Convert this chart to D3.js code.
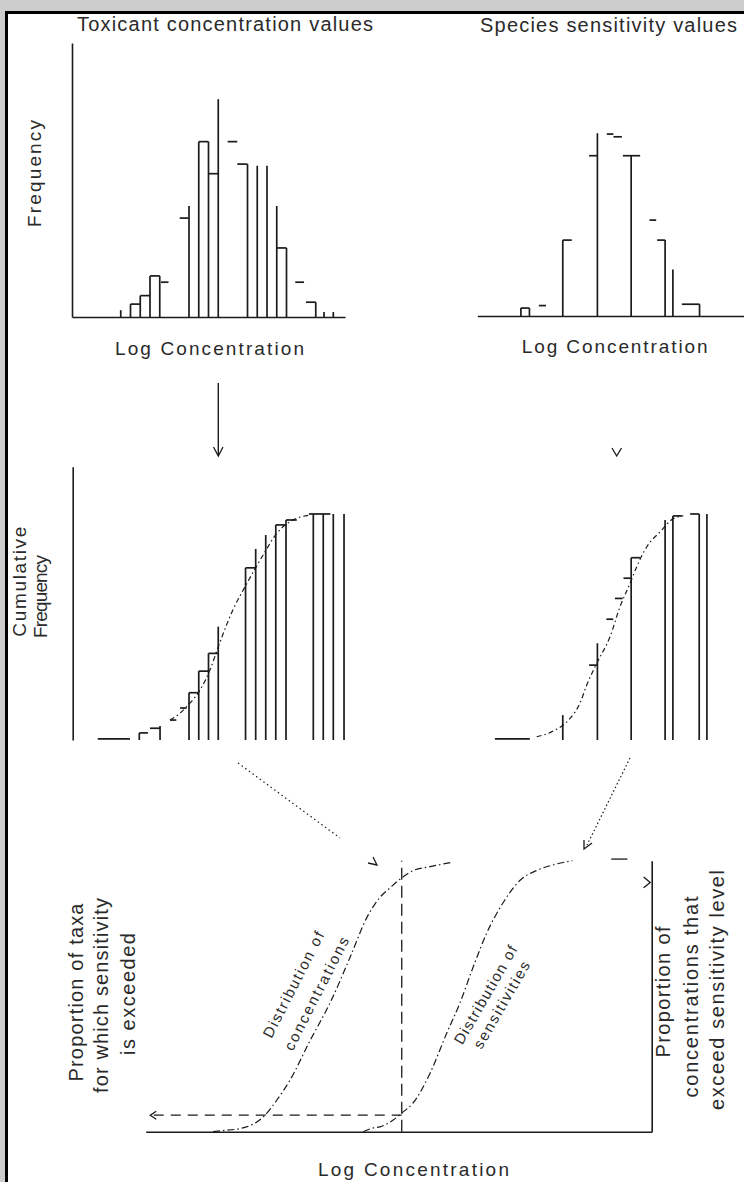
<!DOCTYPE html>
<html>
<head>
<meta charset="utf-8">
<script src="https://cdn.jsdelivr.net/npm/d3@7"></script>
<style>
  html, body { margin: 0; padding: 0; background: #cdcdcd; }
  svg { display: block; }
  text { font-family: "Liberation Sans", Arial, sans-serif; fill: #2a2a2a; }
</style>
</head>
<body>
<svg id="chart" width="744" height="1182"></svg>
<script>
// ---- data (log-concentration bins, frequency %) ----
// vertical strokes: [bin edge, height]   tops: [from, to, height]
const toxVerts = [[5,2.5],[6,4.7],[7,7.8],[8,15],[9,15],[12,40.5],[13,64],[14,64],[15,79.5],
                  [18,55.8],[19,55.2],[20,55.2],[21,40.5],[22,25.2],[25,5.4],[25.85,1.8],[26.8,1.8]];
const toxTops  = [[6,7,4.7],[7,8,7.8],[8,9,15],[9.13,9.9,12.7],[11.05,11.97,36.1],[13,14,64],
                  [14,15,52.3],[15.97,16.95,64],[16.95,18,55.8],[21,22,25.2],[22.9,23.8,12.7],[24,25,5.4]];

const speVerts = [[5.1,2.9],[6.1,2.9],[10,27.7],[14.05,66.7],[18,58.5],[21.97,27.7],[22.88,17],[26,4.3]];
const speTops  = [[5.1,6.1,2.9],[7.2,8.04,3.8],[10,11.05,27.7],[13.08,14.05,58.5],[15.15,15.93,66.4],
                  [15.93,16.91,65.4],[17.03,19.05,58.5],[20.14,20.93,35],[21.04,21.97,27.7],[23.93,26,4.3]];

// cumulative frequency (%)
const cumToxVerts = [[6.9,2.6],[9.03,5.1],[12,17.3],[13,25.2],[14,31.7],[15,41.5],[17.8,63],[18.84,69.9],
                     [19.87,75],[20.9,78.7],[21.95,80.5],[24.75,82.7],[25.77,82.7],[26.8,82.7],[27.9,82.7]];
const cumToxTops  = [[2.64,5.95,0.4],[6.9,7.8,2.6],[8,9.03,4.3],[10.05,10.7,7.3],[11.08,11.76,11.7],
                     [12,13,17.3],[13,14,25.2],[14,15,31.7],[17.8,18.84,63],[20.9,21.95,78.7],
                     [21.95,23.05,80.5],[24.3,26.5,82.7]];
const cumToxFitX  = [10.05,11.08,11.76,13.13,14.15,15.0,16.5,17.75,19.6,21.0,22.36,24.4];
const cumToxFitY  = [7.3,9.8,12.2,18.3,25.6,34.1,47.6,56.1,67.7,75.6,79.9,82.3];

const cumSpeVerts = [[10,9.1],[14.05,35.4],[18,66.7],[21.97,80.5],[22.88,82],[25.96,82.7],[26.86,82.7]];
const cumSpeTops  = [[2.06,6.15,0.4],[13.08,14.05,27.4],[15.1,15.9,44.2],[16.1,17,51.8],[17.1,18,59.2],
                     [18,19.05,66.7],[22.88,23.93,82],[24.9,25.96,82.7]];
const cumSpeFitX  = [6.95,8.9,10.85,12.0,12.8,13.98,15.54,16.7,17.88,18.66,19.83,21.4,22.97,24.1];
const cumSpeFitY  = [1.2,3.3,7.9,13.4,20.1,28.1,37.9,48.8,57.4,63.5,70.7,76.2,81.1,82];

// bottom panel: proportions (0-1) against log concentration (0-100)
const concX = [13.3,14.7,19.2,23.2,25.9,28.5,32.5,36.4,40.4,43.7,46.3,48.3,50.6,52.9,56.2,60.5];
const concY = [0,0.003,0.014,0.054,0.116,0.19,0.337,0.474,0.644,0.79,0.865,0.9,0.937,0.964,0.978,0.994];
const sensX = [43,45,46.3,48.9,50.6,52.8,56.2,59.5,62.1,64.7,67.4,70.6,74,77.4,80.6,84.3];
const sensY = [0,0.014,0.018,0.043,0.069,0.105,0.216,0.364,0.475,0.607,0.733,0.844,0.928,0.965,0.985,1.0];
const exposureLevel = 50.6;   // concentration marked by the vertical dashed line
const exceededShare = 0.061;  // proportion read across to the left axis

const svg = d3.select("#chart");
const ink = "#1b1b1b";

// frame
svg.append("rect").attr("x", 5).attr("y", 11).attr("width", 739).attr("height", 1171).attr("fill", "#000");
svg.append("rect").attr("x", 8).attr("y", 14).attr("width", 736).attr("height", 1168).attr("fill", "#fff");

// scales
const xA = d3.scaleLinear().domain([0, 28]).range([72, 345]);
const yA = d3.scaleLinear().domain([0, 100]).range([317, 43]);
const xB = d3.scaleLinear().domain([0, 31.2]).range([477.3, 744]);
const yB = d3.scaleLinear().domain([0, 100]).range([316, 42]);
const yC = d3.scaleLinear().domain([0, 100]).range([740, 466.7]);
const xE = d3.scaleLinear().domain([0, 100]).range([145.7, 651.7]);
const yE = d3.scaleLinear().domain([0, 1]).range([1131.7, 860.7]);

function bareAxis(axis, tx, ty) {
  const g = svg.append("g").attr("transform", `translate(${tx},${ty})`)
    .call(axis.tickValues([]).tickSizeOuter(0));
  g.select(".domain").attr("stroke", ink).attr("stroke-width", 1.6);
  return g;
}

function steps(xs, ys, verts, tops) {
  const g = svg.append("g").attr("stroke", ink).attr("stroke-width", 1.7);
  g.selectAll(null).data(verts).join("line")
    .attr("x1", d => xs(d[0])).attr("x2", d => xs(d[0]))
    .attr("y1", ys(0)).attr("y2", d => ys(d[1]));
  g.selectAll(null).data(tops).join("line")
    .attr("x1", d => xs(d[0])).attr("x2", d => xs(d[1]))
    .attr("y1", d => ys(d[2])).attr("y2", d => ys(d[2]));
}

function fit(xs, ys, px, py, dash) {
  const pts = px.map((v, i) => [v, py[i]]);
  svg.append("path").datum(pts)
    .attr("fill", "none").attr("stroke", ink).attr("stroke-width", 1.2)
    .attr("stroke-dasharray", dash)
    .attr("d", d3.line().x(d => xs(d[0])).y(d => ys(d[1])).curve(d3.curveMonotoneX));
}

function label(x, y, str, size, len, rot, anchor) {
  const t = svg.append("text")
    .attr("transform", `translate(${x},${y}) rotate(${rot || 0})`)
    .attr("font-size", size).attr("text-anchor", anchor || "start")
    .text(str);
  if (len) t.attr("textLength", len).attr("lengthAdjust", "spacing");
  return t;
}

// ---- top left: toxicant histogram ----
bareAxis(d3.axisBottom(xA), 0, 317);
bareAxis(d3.axisLeft(yA), 72, 0);
steps(xA, yA, toxVerts, toxTops);
label(77, 31, "Toxicant concentration values", 20, 296);
label(41, 227, "Frequency", 19, 107, -90);
label(115, 355, "Log Concentration", 19, 189);

// ---- top right: species histogram ----
bareAxis(d3.axisBottom(xB), 0, 316);
steps(xB, yB, speVerts, speTops);
label(480, 32, "Species sensitivity values", 20, 257);
label(521.7, 353, "Log Concentration", 19, 186);

// ---- middle: cumulative ----
bareAxis(d3.axisLeft(yC), 72.7, 0);
steps(xA, yC, cumToxVerts, cumToxTops);
fit(xA, yC, cumToxFitX, cumToxFitY, "5,3,1.5,3");
steps(xB, yC, cumSpeVerts, cumSpeTops);
fit(xB, yC, cumSpeFitX, cumSpeFitY, "5,3,1.5,3");
label(26, 636.7, "Cumulative", 19, 110, -90);
label(47, 638, "Frequency", 19, 83, -90);

// ---- connecting arrows ----
const arr = svg.append("g").attr("fill", "none").attr("stroke", ink);
arr.append("line").attr("x1", 218.3).attr("y1", 383).attr("x2", 218.3).attr("y2", 455).attr("stroke-width", 1.4);
arr.append("path").attr("d", "M213.5,447L218.3,456L223,447").attr("stroke-width", 1.3);
arr.append("path").attr("d", "M612,448L616.7,456L621.5,448").attr("stroke-width", 1.3);
arr.append("line").attr("x1", 238).attr("y1", 763).attr("x2", 340).attr("y2", 838)
  .attr("stroke-width", 1.2).attr("stroke-dasharray", "1.5,3");
arr.append("path").attr("d", "M368,863L377,865L373,857").attr("stroke-width", 1.3);
arr.append("line").attr("x1", 630).attr("y1", 758).attr("x2", 587).attr("y2", 845)
  .attr("stroke-width", 1.2).attr("stroke-dasharray", "1.5,2.5");
arr.append("path").attr("d", "M584,840L584,849L592,843").attr("stroke-width", 1.3);

// ---- bottom: the two distributions ----
bareAxis(d3.axisBottom(xE), 0, 1131.7);
bareAxis(d3.axisRight(yE), 651.7, 0);
fit(xE, yE, concX, concY, "7,3,1.5,3");
fit(xE, yE, sensX, sensY, "7,3,1.5,3");

const ref = svg.append("g").attr("fill", "none").attr("stroke", ink).attr("stroke-width", 1.3);
ref.append("line")
  .attr("x1", xE(exposureLevel)).attr("x2", xE(exposureLevel))
  .attr("y1", yE(0)).attr("y2", yE(1))
  .attr("stroke-dasharray", "12,6");
ref.append("line")
  .attr("x1", xE(exposureLevel)).attr("x2", xE(0.9))
  .attr("y1", yE(exceededShare)).attr("y2", yE(exceededShare))
  .attr("stroke-dasharray", "10,7");
ref.append("path")
  .attr("d", `M${xE(0.9) + 6},${yE(exceededShare) - 4}L${xE(0.9)},${yE(exceededShare)}L${xE(0.9) + 6},${yE(exceededShare) + 4}`);
ref.append("line").attr("x1", xE(92)).attr("x2", xE(95.2)).attr("y1", yE(1.006)).attr("y2", yE(1.006));
ref.append("path").attr("d", `M${xE(98.4)},${yE(0.94)}L${xE(100) - 1.5},${yE(0.92)}L${xE(98.4)},${yE(0.9)}`);

label(298, 987, "Distribution of", 15, 117, -63, "middle");
label(321, 996, "concentrations", 15, 125, -63, "middle");
label(490, 997.5, "Distribution of", 15, 111, -60, "middle");
label(506, 1007.5, "sensitivities", 15, 98, -60, "middle");

label(82.5, 992.5, "Proportion of taxa", 20, 178, -90, "middle");
label(108, 995.5, "for which sensitivity", 20, 195, -90, "middle");
label(135, 994, "is exceeded", 20, 122, -90, "middle");

label(670, 992, "Proportion of", 20, 131, -90, "middle");
label(698, 997, "concentrations that", 20, 201, -90, "middle");
label(724, 990, "exceed sensitivity level", 20, 240, -90, "middle");

label(318, 1176, "Log Concentration", 19, 191);
</script>
</body>
</html>
